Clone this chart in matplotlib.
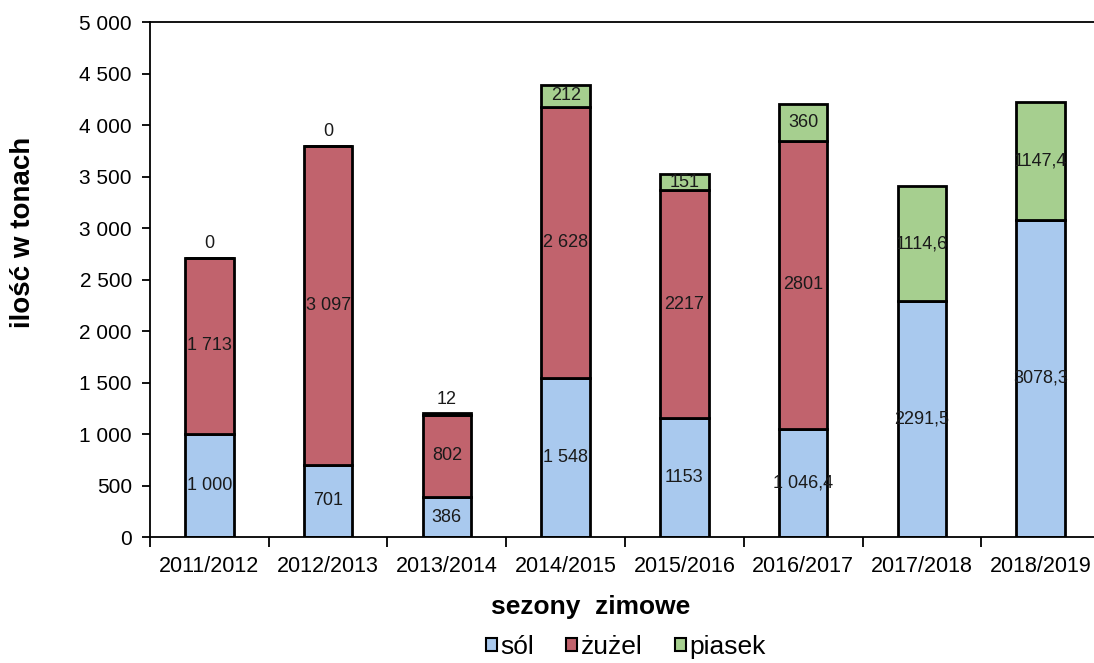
import matplotlib.pyplot as plt
from matplotlib.ticker import FuncFormatter, FixedLocator
from matplotlib.patches import Patch

plt.rcParams['font.family'] = ['Liberation Sans', 'DejaVu Sans']

# data
seasons = ["2011/2012", "2012/2013", "2013/2014", "2014/2015",
           "2015/2016", "2016/2017", "2017/2018", "2018/2019"]
sol = [1000, 701, 386, 1548, 1153, 1046.4, 2291.5, 3078.3]
zuzel = [1713, 3097, 802, 2628, 2217, 2801, 0, 0]
piasek = [0, 0, 12, 212, 151, 360, 1114.6, 1147.4]

sol_lab = ["1 000", "701", "386", "1 548", "1153", "1 046,4", "2291,5", "3078,3"]
zuzel_lab = ["1 713", "3 097", "802", "2 628", "2217", "2801", "", ""]
piasek_lab = ["0", "0", "12", "212", "151", "360", "1114,6", "1147,4"]

c_sol = "#a9c9ee"
c_zuz = "#c1636d"
c_pia = "#a6cf8f"

fig = plt.figure(figsize=(10.94, 6.63), dpi=100)
ax = fig.add_axes([0.1371, 0.19, 0.8684, 0.7768])

x = list(range(len(seasons)))
w = 0.41
bottom2 = [a + b for a, b in zip(sol, zuzel)]

ax.bar(x, sol, w, color=c_sol, edgecolor="black", linewidth=2)
ax.bar(x, zuzel, w, bottom=sol, color=c_zuz, edgecolor="black", linewidth=2)
ax.bar(x, piasek, w, bottom=bottom2, color=c_pia, edgecolor="black", linewidth=2)

lab_font = dict(fontsize=13, ha="center", va="center", color="#1a1a1a",
                family=["Liberation Sans Narrow", "Liberation Sans"])
for i in x:
    ax.text(i, sol[i] / 2, sol_lab[i], **lab_font)
    if zuzel_lab[i]:
        ax.text(i, sol[i] + zuzel[i] / 2, zuzel_lab[i], **lab_font)
    if piasek[i] < 50:
        # tiny segments: label sits just above the bar
        ax.text(i, bottom2[i] + piasek[i] + 140, piasek_lab[i], **lab_font)
    else:
        ax.text(i, bottom2[i] + piasek[i] / 2, piasek_lab[i], **lab_font)

ax.set_xlim(-0.5, len(seasons) - 0.5)
ax.set_ylim(0, 5000)
ax.set_yticks(range(0, 5001, 500))
ax.yaxis.set_major_formatter(FuncFormatter(lambda v, p: "{:,}".format(int(v)).replace(",", " ")))
ax.set_xticks(x)
ax.set_xticklabels(seasons)
ax.xaxis.set_minor_locator(FixedLocator([i + 0.5 for i in range(-1, len(seasons))]))
ax.tick_params(axis="x", which="major", length=0, pad=14, labelsize=15.5)
ax.tick_params(axis="x", which="minor", length=7, width=1.3, direction="out")
ax.tick_params(axis="y", length=6, width=1.3, direction="out", labelsize=15, pad=7)

for s in ax.spines.values():
    s.set_linewidth(1.3)

fig.text(0.021, 0.649, "ilość w tonach", rotation=90, ha="center", va="center",
         fontsize=20, fontweight="bold")
fig.text(0.540, 0.084, "sezony  zimowe", ha="center", va="center",
         fontsize=19, fontweight="bold")

handles = [Patch(facecolor=c_sol, edgecolor="black", linewidth=1.5),
           Patch(facecolor=c_zuz, edgecolor="black", linewidth=1.5),
           Patch(facecolor=c_pia, edgecolor="black", linewidth=1.5)]
fig.legend(handles, ["sól", "żużel", "piasek"], ncol=3, loc="lower center",
           bbox_to_anchor=(0.572, 0.0), frameon=False, fontsize=19,
           handlelength=0.42, handleheight=0.42, handletextpad=0.15,
           columnspacing=1.2, borderpad=0.05, borderaxespad=0.1)

fig.savefig("out.png", dpi=100)
